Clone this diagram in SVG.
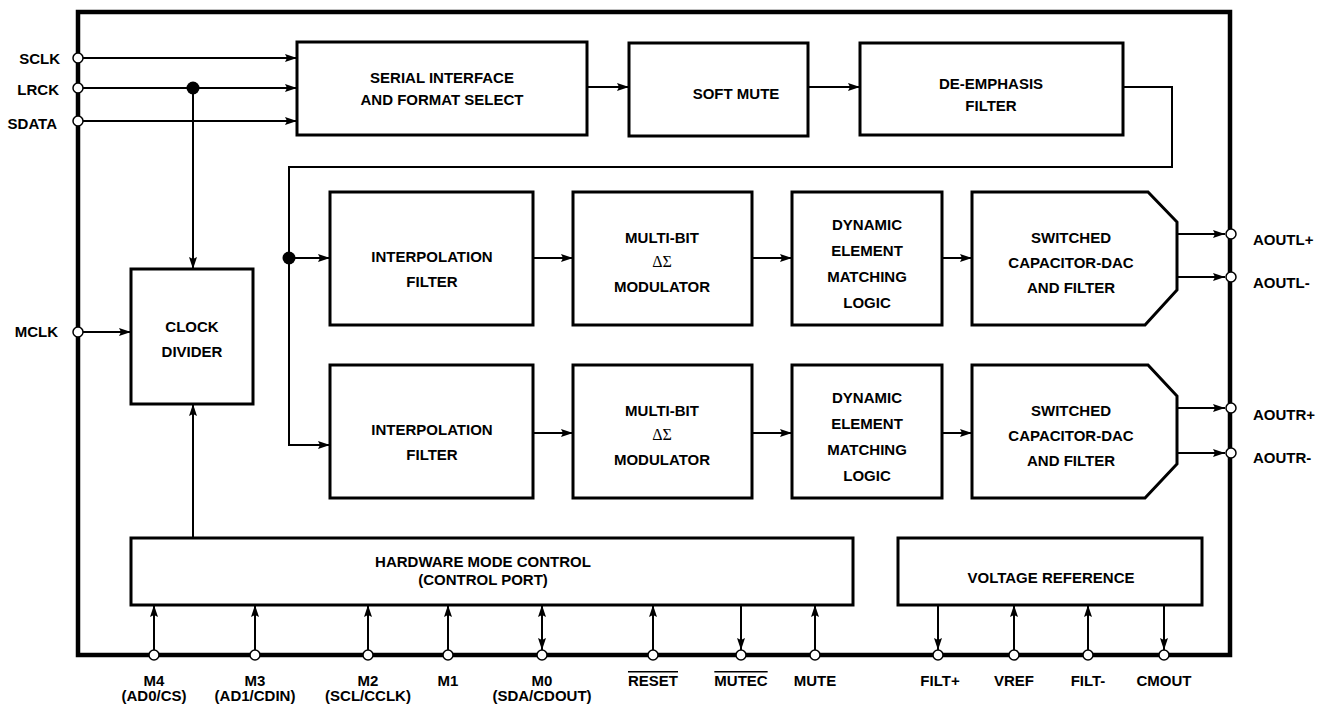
<svg xmlns="http://www.w3.org/2000/svg" width="1325" height="711" viewBox="0 0 1325 711">
<style>
.bx{fill:#fff;stroke:#000;stroke-width:3}
.ln{fill:none;stroke:#000;stroke-width:2}
.pin{fill:#fff;stroke:#000;stroke-width:1.5}
.t{font-family:"Liberation Sans",Arial,sans-serif;font-weight:bold;font-size:15px;fill:#000;text-anchor:middle}
.te{font-family:"Liberation Sans",Arial,sans-serif;font-weight:bold;font-size:15px;fill:#000;text-anchor:end}
.ts{font-family:"Liberation Sans",Arial,sans-serif;font-weight:bold;font-size:15px;fill:#000;text-anchor:start}
.g{font-family:"Liberation Serif","Times New Roman",serif;font-size:16px;fill:#000;text-anchor:middle}
.ov{text-decoration:overline}
</style>
<defs>
<marker id="ar" viewBox="0 0 12 8" refX="12" refY="4" markerWidth="12" markerHeight="8" markerUnits="userSpaceOnUse" orient="auto-start-reverse">
<path d="M0,0 L12,4 L0,8 L2,4 z" fill="#000"/>
</marker>
</defs>
<rect x="78" y="12" width="1152" height="643" fill="none" stroke="#000" stroke-width="4.5"/>

<g id="connectors">
<line class="ln" x1="83" y1="58" x2="297" y2="58" marker-end="url(#ar)"/>
<line class="ln" x1="83" y1="88" x2="297" y2="88" marker-end="url(#ar)"/>
<line class="ln" x1="83" y1="121" x2="297" y2="121" marker-end="url(#ar)"/>
<line class="ln" x1="193" y1="88" x2="193" y2="269" marker-end="url(#ar)"/>
<circle cx="193" cy="88" r="6.5" fill="#000"/>
<line class="ln" x1="83" y1="332" x2="131" y2="332" marker-end="url(#ar)"/>
<line class="ln" x1="587" y1="87" x2="629" y2="87" marker-end="url(#ar)"/>
<line class="ln" x1="808" y1="87" x2="860" y2="87" marker-end="url(#ar)"/>
<polyline class="ln" points="1123,87 1172,87 1172,167 289,167 289,445 330,445" marker-end="url(#ar)"/>
<line class="ln" x1="289" y1="258" x2="330" y2="258" marker-end="url(#ar)"/>
<circle cx="289" cy="258" r="6.5" fill="#000"/>
<line class="ln" x1="533" y1="258" x2="573" y2="258" marker-end="url(#ar)"/>
<line class="ln" x1="752" y1="258" x2="792" y2="258" marker-end="url(#ar)"/>
<line class="ln" x1="942" y1="258" x2="972" y2="258" marker-end="url(#ar)"/>
<line class="ln" x1="533" y1="433" x2="573" y2="433" marker-end="url(#ar)"/>
<line class="ln" x1="752" y1="433" x2="792" y2="433" marker-end="url(#ar)"/>
<line class="ln" x1="942" y1="433" x2="972" y2="433" marker-end="url(#ar)"/>
<line class="ln" x1="1177" y1="234" x2="1225" y2="234" marker-end="url(#ar)"/>
<line class="ln" x1="1177" y1="277" x2="1225" y2="277" marker-end="url(#ar)"/>
<line class="ln" x1="1177" y1="408" x2="1225" y2="408" marker-end="url(#ar)"/>
<line class="ln" x1="1177" y1="453" x2="1225" y2="453" marker-end="url(#ar)"/>
<line class="ln" x1="193" y1="538" x2="193" y2="404" marker-end="url(#ar)"/>
<line class="ln" x1="154" y1="650" x2="154" y2="605" marker-end="url(#ar)"/>
<line class="ln" x1="255" y1="650" x2="255" y2="605" marker-end="url(#ar)"/>
<line class="ln" x1="368" y1="650" x2="368" y2="605" marker-end="url(#ar)"/>
<line class="ln" x1="448" y1="650" x2="448" y2="605" marker-end="url(#ar)"/>
<line class="ln" x1="542" y1="650" x2="542" y2="605" marker-start="url(#ar)" marker-end="url(#ar)"/>
<line class="ln" x1="653" y1="650" x2="653" y2="605" marker-end="url(#ar)"/>
<line class="ln" x1="741" y1="605" x2="741" y2="650" marker-end="url(#ar)"/>
<line class="ln" x1="815" y1="650" x2="815" y2="605" marker-end="url(#ar)"/>
<line class="ln" x1="938" y1="605" x2="938" y2="650" marker-end="url(#ar)"/>
<line class="ln" x1="1014" y1="650" x2="1014" y2="605" marker-end="url(#ar)"/>
<line class="ln" x1="1088" y1="650" x2="1088" y2="605" marker-end="url(#ar)"/>
<line class="ln" x1="1164" y1="605" x2="1164" y2="650" marker-end="url(#ar)"/>
</g>

<g id="serial"><rect class="bx" x="297" y="42" width="290" height="93"/>
<text class="t" x="442" y="83">SERIAL INTERFACE</text><text class="t" x="442" y="105">AND FORMAT SELECT</text></g>
<g id="softmute"><rect class="bx" x="629" y="43" width="179" height="93"/>
<text class="t" x="736" y="99">SOFT MUTE</text></g>
<g id="deemph"><rect class="bx" x="860" y="43" width="263" height="92"/>
<text class="t" x="991" y="89">DE-EMPHASIS</text><text class="t" x="991" y="111">FILTER</text></g>
<g id="clockdiv"><rect class="bx" x="131" y="269" width="122" height="135"/>
<text class="t" x="192" y="332">CLOCK</text><text class="t" x="192" y="357">DIVIDER</text></g>

<g id="interp1"><rect class="bx" x="330" y="192" width="203" height="133"/>
<text class="t" x="432" y="262">INTERPOLATION</text><text class="t" x="432" y="287">FILTER</text></g>
<g id="mod1"><rect class="bx" x="573" y="192" width="179" height="133"/>
<text class="t" x="662" y="243">MULTI-BIT</text><text class="g" x="662" y="267">ΔΣ</text><text class="t" x="662" y="292">MODULATOR</text></g>
<g id="dem1"><rect class="bx" x="792" y="192" width="150" height="133"/>
<text class="t" x="867" y="230">DYNAMIC</text><text class="t" x="867" y="256">ELEMENT</text><text class="t" x="867" y="282">MATCHING</text><text class="t" x="867" y="308">LOGIC</text></g>
<g id="dac1"><path class="bx" d="M972,192 L1148,192 L1177,222 L1177,290 L1145,325 L972,325 Z"/>
<text class="t" x="1071" y="243">SWITCHED</text><text class="t" x="1071" y="268">CAPACITOR-DAC</text><text class="t" x="1071" y="293">AND FILTER</text></g>

<g id="interp2"><rect class="bx" x="330" y="365" width="203" height="133"/>
<text class="t" x="432" y="435">INTERPOLATION</text><text class="t" x="432" y="460">FILTER</text></g>
<g id="mod2"><rect class="bx" x="573" y="365" width="179" height="133"/>
<text class="t" x="662" y="416">MULTI-BIT</text><text class="g" x="662" y="440">ΔΣ</text><text class="t" x="662" y="465">MODULATOR</text></g>
<g id="dem2"><rect class="bx" x="792" y="365" width="150" height="133"/>
<text class="t" x="867" y="403">DYNAMIC</text><text class="t" x="867" y="429">ELEMENT</text><text class="t" x="867" y="455">MATCHING</text><text class="t" x="867" y="481">LOGIC</text></g>
<g id="dac2"><path class="bx" d="M972,365 L1148,365 L1177,396 L1177,464 L1145,498 L972,498 Z"/>
<text class="t" x="1071" y="416">SWITCHED</text><text class="t" x="1071" y="441">CAPACITOR-DAC</text><text class="t" x="1071" y="466">AND FILTER</text></g>

<g id="hwctrl"><rect class="bx" x="131" y="538" width="722" height="67"/>
<text class="t" x="483" y="567">HARDWARE MODE CONTROL</text><text class="t" x="483" y="585">(CONTROL PORT)</text></g>
<g id="vref"><rect class="bx" x="898" y="538" width="304" height="67"/>
<text class="t" x="1051" y="583">VOLTAGE REFERENCE</text></g>

<g id="pins">
<circle class="pin" cx="78" cy="58" r="5"/><text class="te" x="60" y="64">SCLK</text>
<circle class="pin" cx="78" cy="88" r="5"/><text class="te" x="59" y="95">LRCK</text>
<circle class="pin" cx="78" cy="121" r="5"/><text class="te" x="57" y="129">SDATA</text>
<circle class="pin" cx="78" cy="332" r="5"/><text class="te" x="58" y="337">MCLK</text>
<circle class="pin" cx="1231" cy="234" r="5"/><text class="ts" x="1253" y="245">AOUTL+</text>
<circle class="pin" cx="1231" cy="277" r="5"/><text class="ts" x="1253" y="288">AOUTL-</text>
<circle class="pin" cx="1231" cy="408" r="5"/><text class="ts" x="1253" y="420">AOUTR+</text>
<circle class="pin" cx="1231" cy="453" r="5"/><text class="ts" x="1253" y="463">AOUTR-</text>
<circle class="pin" cx="154" cy="655" r="5"/><text class="t" x="154" y="686">M4</text><text class="t" x="154" y="701">(AD0/CS)</text>
<circle class="pin" cx="255" cy="655" r="5"/><text class="t" x="255" y="686">M3</text><text class="t" x="255" y="701">(AD1/CDIN)</text>
<circle class="pin" cx="368" cy="655" r="5"/><text class="t" x="368" y="686">M2</text><text class="t" x="368" y="701">(SCL/CCLK)</text>
<circle class="pin" cx="448" cy="655" r="5"/><text class="t" x="448" y="686">M1</text>
<circle class="pin" cx="542" cy="655" r="5"/><text class="t" x="542" y="686">M0</text><text class="t" x="542" y="701">(SDA/CDOUT)</text>
<circle class="pin" cx="653" cy="655" r="5"/><text class="t ov" x="653" y="686">RESET</text>
<circle class="pin" cx="741" cy="655" r="5"/><text class="t ov" x="741" y="686">MUTEC</text>
<circle class="pin" cx="815" cy="655" r="5"/><text class="t" x="815" y="686">MUTE</text>
<circle class="pin" cx="938" cy="655" r="5"/><text class="t" x="940" y="686">FILT+</text>
<circle class="pin" cx="1014" cy="655" r="5"/><text class="t" x="1014" y="686">VREF</text>
<circle class="pin" cx="1088" cy="655" r="5"/><text class="t" x="1088" y="686">FILT-</text>
<circle class="pin" cx="1164" cy="655" r="5"/><text class="t" x="1164" y="686">CMOUT</text>
</g>
</svg>
